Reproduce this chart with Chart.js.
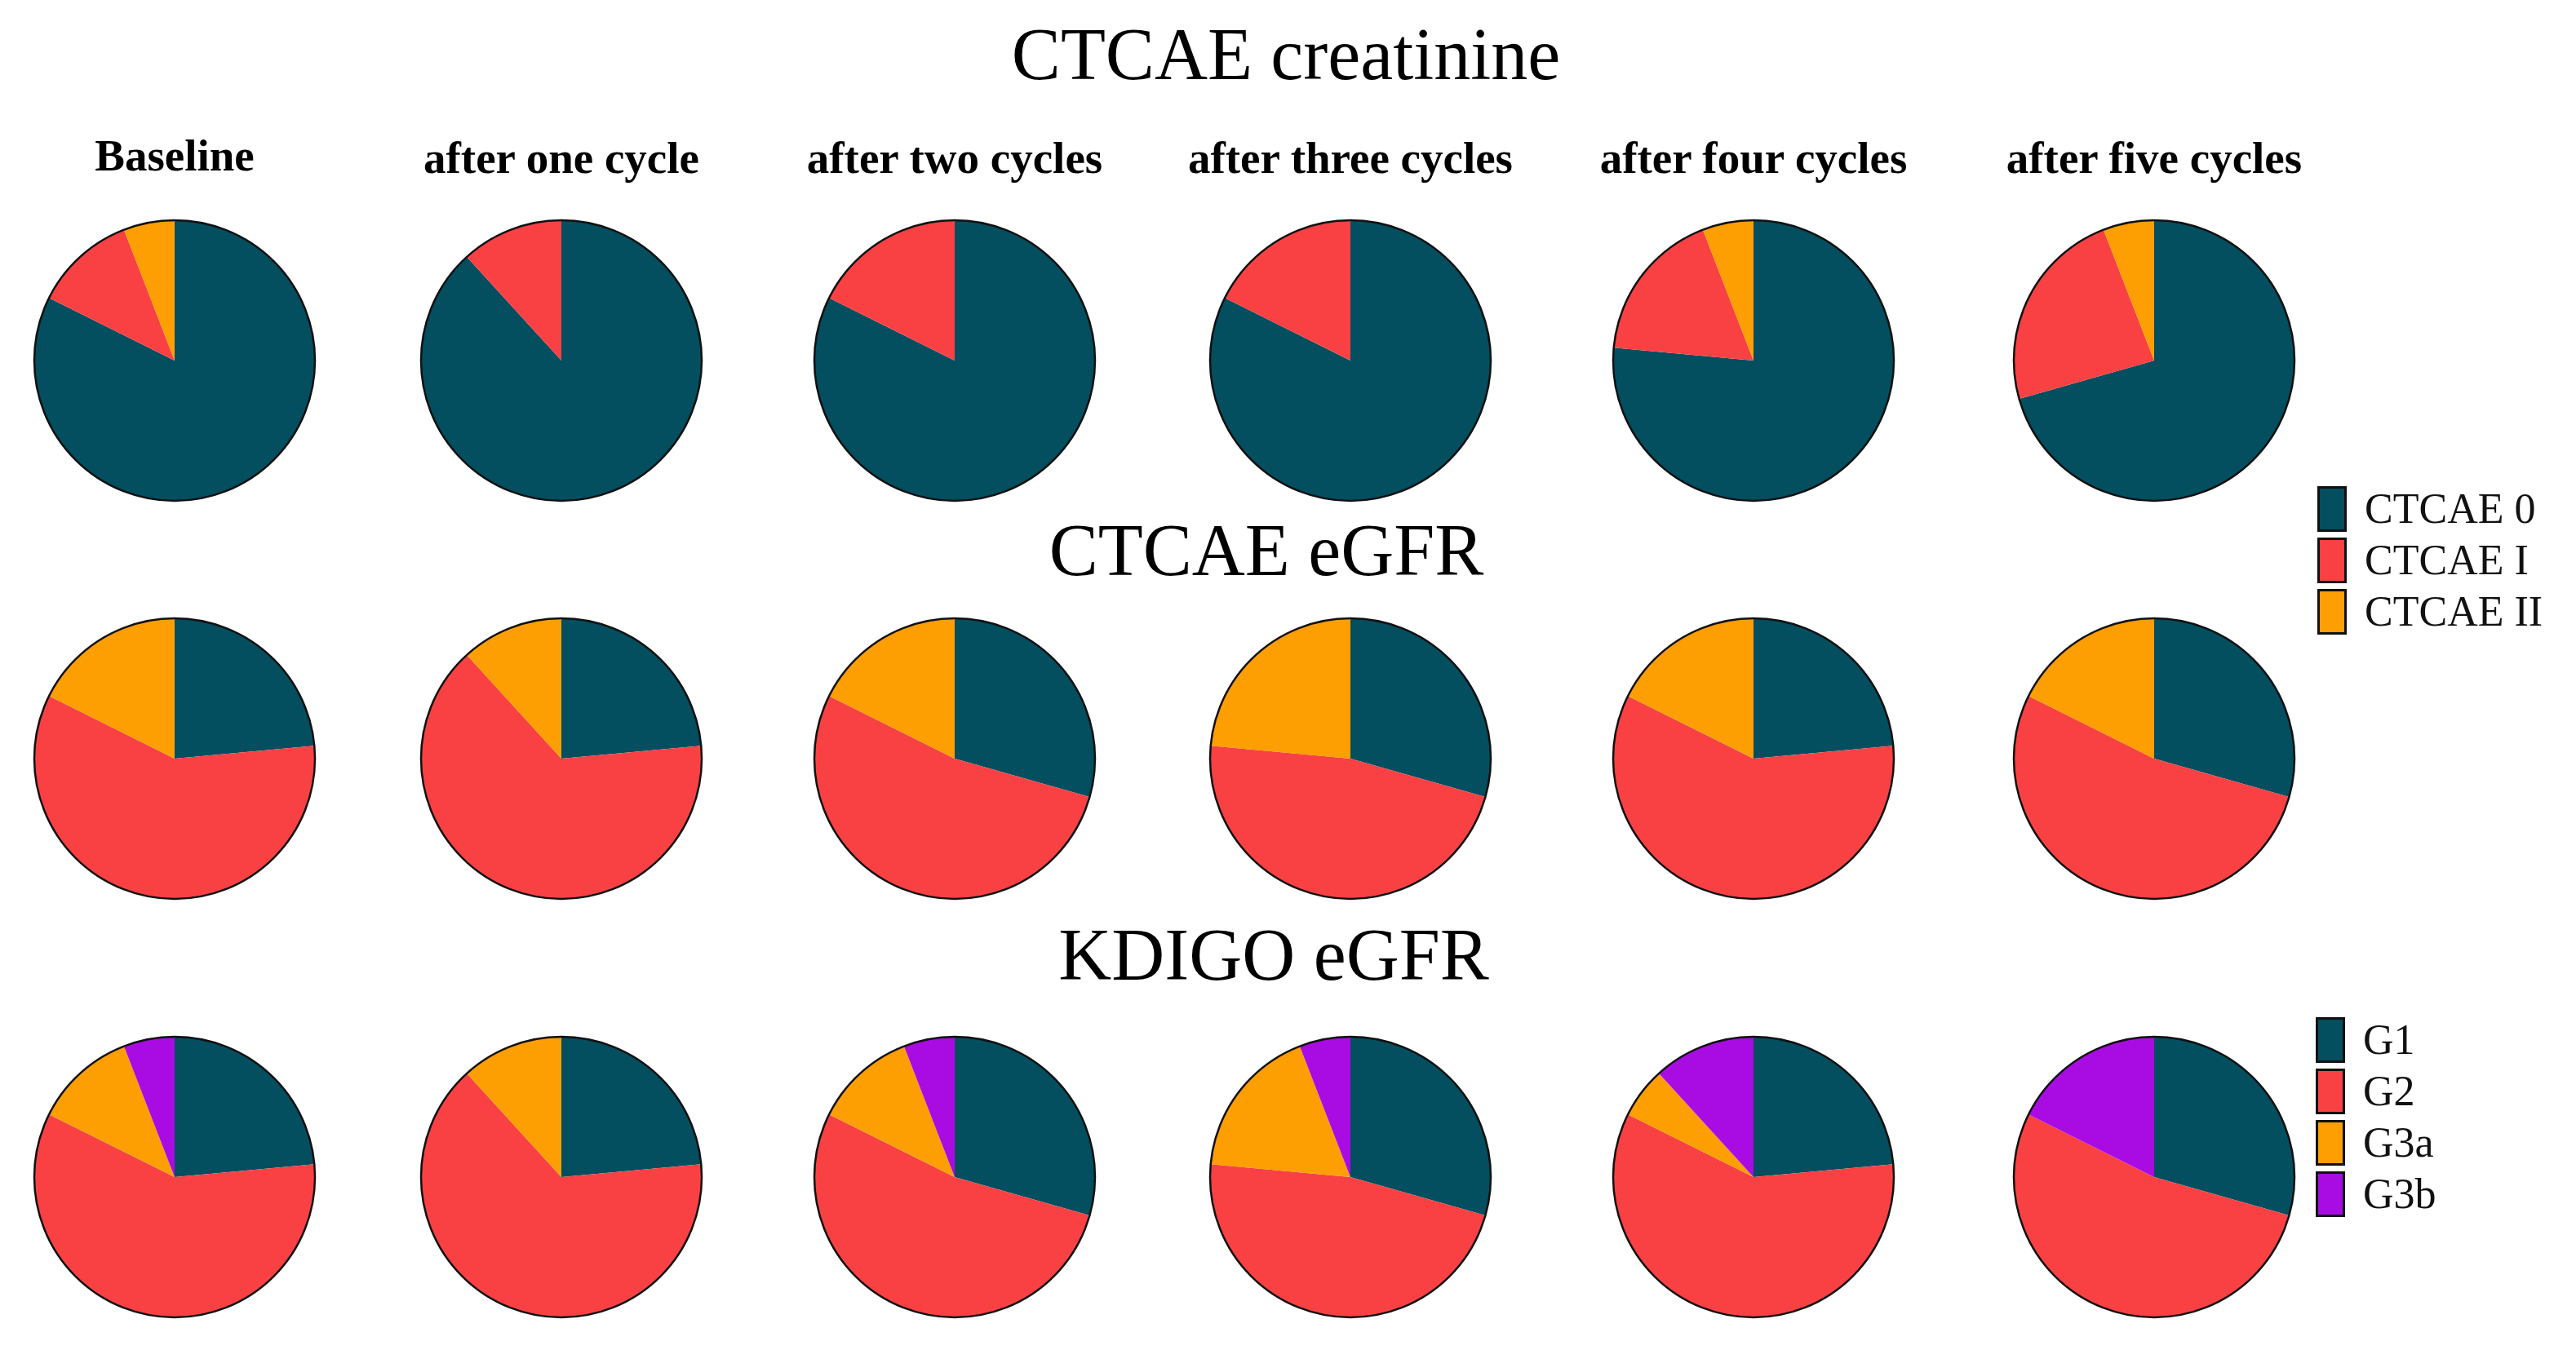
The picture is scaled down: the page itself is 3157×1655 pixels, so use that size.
<!DOCTYPE html>
<html>
<head>
<meta charset="utf-8">
<script src="https://cdn.jsdelivr.net/npm/chart.js@4.4.0/dist/chart.umd.min.js"></script>
<style>
  body { margin: 0; background: #fff; font-family: "Liberation Serif", "DejaVu Serif", serif; }
  #page { position: relative; width: 3157px; height: 1655px; overflow: hidden; }
  .title { position: absolute; width: 1000px; text-align: center; font-size: 90px; line-height: 90px; color: #000; }
  .head { position: absolute; width: 460px; text-align: center; font-size: 55px; line-height: 55px; font-weight: bold; color: #000; }
  .pie { position: absolute; width: 370px; height: 370px; }
  .legend { position: absolute; }
  .legend .row { display: flex; align-items: center; height: 63px; }
  .legend .box { width: 30px; height: 50px; border: 3px solid #111; box-sizing: content-box; }
  .legend .lab { margin-left: 22px; font-size: 52px; line-height: 52px; color: #111; }
</style>
</head>
<body>
<div id="page"></div>
<script>
// time points (columns)
const timepoints = ["Baseline", "after one cycle", "after two cycles", "after three cycles", "after four cycles", "after five cycles"];

// CTCAE creatinine (patients per grade)
const creatLabels = ["CTCAE 0", "CTCAE I", "CTCAE II"];
const creatG0 = [14, 15, 14, 14, 13, 12];
const creatG1 = [2, 2, 3, 3, 3, 4];
const creatG2 = [1, 0, 0, 0, 1, 1];

// CTCAE eGFR
const egfrLabels = ["CTCAE 0", "CTCAE I", "CTCAE II"];
const egfrG0 = [4, 4, 5, 5, 4, 5];
const egfrG1 = [10, 11, 9, 8, 10, 9];
const egfrG2 = [3, 2, 3, 4, 3, 3];

// KDIGO eGFR
const kdigoLabels = ["G1", "G2", "G3a", "G3b"];
const kdigoG1 = [4, 4, 5, 5, 4, 5];
const kdigoG2 = [10, 11, 9, 8, 10, 9];
const kdigoG3a = [2, 2, 2, 3, 1, 0];
const kdigoG3b = [1, 0, 1, 1, 2, 3];

const colors = ["#034e5f", "#f94144", "#fd9e02", "#a80ce2"];

const colX = [214, 688, 1170, 1655, 2149, 2640];
const rowY = [442, 930, 1443];
const R = 172;
const BOX = 370;

const page = document.getElementById("page");

function addText(cls, txt, cx, top) {
    const d = document.createElement("div");
    d.className = cls;
    d.textContent = txt;
    page.appendChild(d);
    d.style.left = (cx - d.offsetWidth / 2) + "px";
    d.style.top = top + "px";
}

addText("title", "CTCAE creatinine", 1576, 22);
addText("title", "CTCAE eGFR", 1552, 630);
addText("title", "KDIGO eGFR", 1561, 1126);

timepoints.forEach((t, i) => addText("head", t, colX[i], 166 + (i === 0 ? -3 : 0)));

// black ring around each pie, slices themselves have no border
const outline = {
    id: "outline",
    afterDatasetsDraw(chart) {
        const arc = chart.getDatasetMeta(0).data[0];
        if (!arc) return;
        const ctx = chart.ctx;
        ctx.save();
        ctx.beginPath();
        ctx.arc(arc.x, arc.y, arc.outerRadius, 0, Math.PI * 2);
        ctx.lineWidth = 2.5;
        ctx.strokeStyle = "#111";
        ctx.stroke();
        ctx.restore();
    }
};

function makePie(row, col, labels, values) {
    const box = document.createElement("div");
    box.className = "pie";
    box.style.left = (colX[col] - BOX / 2) + "px";
    box.style.top = (rowY[row] - BOX / 2) + "px";
    const cv = document.createElement("canvas");
    box.appendChild(cv);
    page.appendChild(box);
    new Chart(cv, {
        type: "pie",
        data: {
            labels: labels,
            datasets: [{
                data: values,
                backgroundColor: colors.slice(0, labels.length),
                borderWidth: 0,
                hoverOffset: 0,
                offset: 0,
            }],
        },
        options: {
            responsive: true,
            maintainAspectRatio: false,
            animation: false,
            events: [],
            radius: R,
            layout: { padding: 0 },
            plugins: {
                legend: { display: false },
                tooltip: { enabled: false },
            },
        },
        plugins: [outline],
    });
}

for (let i = 0; i < timepoints.length; i++) {
    makePie(0, i, creatLabels, [creatG0[i], creatG1[i], creatG2[i]]);
    makePie(1, i, egfrLabels, [egfrG0[i], egfrG1[i], egfrG2[i]]);
    makePie(2, i, kdigoLabels, [kdigoG1[i], kdigoG2[i], kdigoG3a[i], kdigoG3b[i]]);
}

function addLegend(labels, left, top) {
    const lg = document.createElement("div");
    lg.className = "legend";
    lg.style.left = left + "px";
    lg.style.top = top + "px";
    labels.forEach((l, i) => {
        const r = document.createElement("div");
        r.className = "row";
        const b = document.createElement("div");
        b.className = "box";
        b.style.background = colors[i];
        const s = document.createElement("span");
        s.className = "lab";
        s.textContent = l;
        r.appendChild(b);
        r.appendChild(s);
        lg.appendChild(r);
    });
    page.appendChild(lg);
}

addLegend(creatLabels, 2840, 592);
addLegend(kdigoLabels, 2838, 1243);
</script>
</body>
</html>
